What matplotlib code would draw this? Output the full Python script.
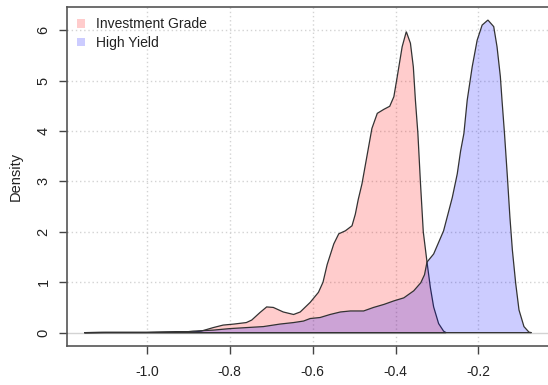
import matplotlib
matplotlib.use("Agg")
import matplotlib.pyplot as plt
from matplotlib.patches import Patch
from matplotlib import font_manager

# density curves (x = spread change, y = density)
ig_x = [-1.151, -1.11, -1.05, -1.0, -0.95, -0.90, -0.88, -0.869, -0.84, -0.816,
        -0.79, -0.76, -0.747, -0.727, -0.711, -0.695, -0.671, -0.646, -0.63, -0.606,
        -0.586, -0.575, -0.565, -0.549, -0.537, -0.521, -0.505, -0.497, -0.490, -0.481,
        -0.469, -0.457, -0.444, -0.428, -0.414, -0.404, -0.396, -0.384, -0.374, -0.364,
        -0.357, -0.352, -0.346, -0.340, -0.333, -0.324, -0.316, -0.308, -0.296, -0.284,
        -0.278]
ig_y = [0.0, 0.005, 0.005, 0.005, 0.01, 0.01, 0.02, 0.03, 0.10, 0.15,
        0.17, 0.20, 0.25, 0.40, 0.51, 0.50, 0.41, 0.36, 0.41, 0.60,
        0.80, 1.00, 1.35, 1.76, 1.96, 2.02, 2.12, 2.35, 2.64, 2.95,
        3.50, 4.05, 4.35, 4.43, 4.49, 4.68, 5.07, 5.67, 5.97, 5.74,
        5.27, 4.61, 3.95, 3.00, 2.00, 1.40, 0.90, 0.51, 0.18, 0.03,
        0.0]

hy_x = [-1.151, -1.10, -1.0, -0.93, -0.90, -0.889, -0.84, -0.80, -0.76, -0.719,
        -0.679, -0.646, -0.622, -0.606, -0.582, -0.558, -0.533, -0.509, -0.477, -0.453,
        -0.428, -0.404, -0.38, -0.356, -0.339, -0.330, -0.324, -0.308, -0.284, -0.263,
        -0.251, -0.243, -0.235, -0.227, -0.215, -0.203, -0.191, -0.177, -0.163, -0.155,
        -0.147, -0.143, -0.137, -0.130, -0.124, -0.118, -0.110, -0.102, -0.090, -0.078,
        -0.072]
hy_y = [0.0, 0.005, 0.005, 0.02, 0.02, 0.03, 0.05, 0.08, 0.10, 0.12,
        0.17, 0.20, 0.23, 0.28, 0.30, 0.36, 0.41, 0.43, 0.43, 0.50,
        0.56, 0.63, 0.69, 0.83, 0.99, 1.15, 1.40, 1.56, 2.02, 2.68,
        3.15, 3.60, 3.95, 4.61, 5.27, 5.80, 6.10, 6.20, 6.07, 5.67,
        5.08, 4.61, 3.95, 3.09, 2.30, 1.64, 0.98, 0.45, 0.12, 0.01,
        0.0]

series_names = ["Investment Grade", "High Yield"]
x_ticks = [-1.0, -0.8, -0.6, -0.4, -0.2]
x_tick_labels = ["-1.0", "-0.8", "-0.6", "-0.4", "-0.2"]
y_ticks = [0, 1, 2, 3, 4, 5, 6]

installed = {f.name for f in font_manager.fontManager.ttflist}
narrow = "Liberation Sans Narrow" if "Liberation Sans Narrow" in installed else "Liberation Sans"
plt.rcParams["font.family"] = ["Liberation Sans", "DejaVu Sans"]

ig_col = (1, 0, 0, 0.2)
hy_col = (0, 0, 1, 0.2)

fig = plt.figure(figsize=(5.48, 3.85), dpi=100)
ax = fig.add_axes([0.1214, 0.1013, 0.8786, 0.8813])

# grid (R style dotted lightgray) and zero line
for xv in x_ticks:
    ax.axvline(xv, color="#d3d3d3", lw=1, ls=(0, (1, 2)), zorder=0)
for yv in y_ticks[1:]:
    ax.axhline(yv, color="#d3d3d3", lw=1, ls=(0, (1, 2)), zorder=0)
ax.axhline(0, color="#d3d3d3", lw=1, zorder=0)

ax.fill(ig_x, ig_y, facecolor=ig_col, edgecolor="#333333", lw=0.9, zorder=2)
ax.fill(hy_x, hy_y, facecolor=hy_col, edgecolor="#333333", lw=0.9, zorder=3)

ax.set_xlim(-1.194, -0.032)
ax.set_ylim(-0.265, 6.465)

ax.set_xticks(x_ticks)
ax.set_xticklabels(x_tick_labels, fontfamily=narrow, fontsize=10)
ax.set_yticks(y_ticks)
ax.set_yticklabels([str(v) for v in y_ticks], fontsize=10.5, rotation=90, va="center")
ax.tick_params(axis="both", length=5.5, width=1, color="#444444", labelcolor="#222222")
ax.tick_params(axis="x", pad=8)
ax.tick_params(axis="y", pad=6)

for side in ["left", "bottom", "top"]:
    ax.spines[side].set_color("#555555")
    ax.spines[side].set_linewidth(1.2)
ax.spines["right"].set_visible(False)

ax.set_ylabel("Density", fontsize=10.5, color="#222222", labelpad=10)

handles = [Patch(facecolor=ig_col, edgecolor="none"), Patch(facecolor=hy_col, edgecolor="none")]
leg = ax.legend(handles, series_names, loc="upper left", frameon=False,
                prop={"family": narrow, "size": 10}, handlelength=0.6, handleheight=0.6,
                handletextpad=0.8, labelspacing=0.35, borderaxespad=0.3, borderpad=0.45)
for t in leg.get_texts():
    t.set_color("#222222")

plt.savefig("out.png", dpi=100)
